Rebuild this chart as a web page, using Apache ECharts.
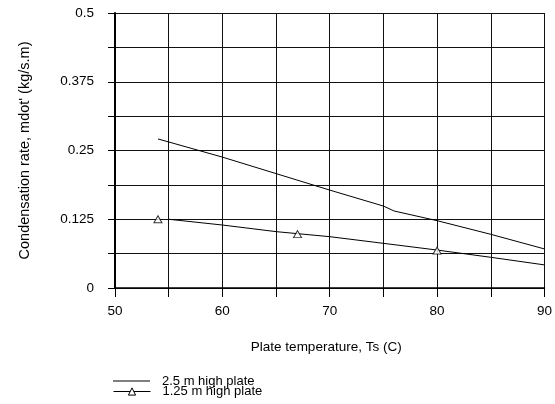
<!DOCTYPE html>
<html>
<head>
<meta charset="utf-8">
<script src="https://cdn.jsdelivr.net/npm/echarts@6/dist/echarts.min.js"></script>
<style>html,body{margin:0;padding:0;background:#fff}#c{width:555px;height:404px}</style>
</head>
<body>
<div id="c"></div>
<script>
// Data
var xTicks = [50, 60, 70, 80, 90];
var yTicks = [0, 0.125, 0.25, 0.375, 0.5];
var plate25X = [54, 60, 70, 75, 76, 80, 85, 90];
var plate25Y = [0.271, 0.238, 0.178, 0.149, 0.140, 0.1224, 0.0976, 0.071];
var plate125X = [55, 60, 65, 70, 75, 80, 85, 90];
var plate125Y = [0.125, 0.1145, 0.1025, 0.0933, 0.0812, 0.069, 0.0558, 0.042];
var pointsX = [54, 67, 80];
var pointsY = [0.125, 0.098, 0.068];
var names = ['2.5 m high plate', '1.25 m high plate'];

function zip(a, b) { return a.map(function (v, i) { return [v, b[i]]; }); }

var FONT = "'Liberation Sans', Arial, Helvetica, sans-serif";
var chart = echarts.init(document.getElementById('c'), null, {renderer: 'canvas'});
chart.setOption({
  animation: false,
  backgroundColor: '#fff',
  textStyle: {fontFamily: FONT, color: '#000'},
  grid: {left: 115, right: 8, top: 13, bottom: 116, containLabel: false},
  xAxis: {
    type: 'value', min: 50, max: 90, interval: 5,
    name: 'Plate temperature, Ts (C)', nameLocation: 'middle', nameGap: 52,
    nameTextStyle: {fontSize: 13.5, color: '#000', fontFamily: FONT, padding: [0, 7, 0, 0]},
    axisLine: {show: true, onZero: false, lineStyle: {color: '#000', width: 1.5}},
    axisTick: {show: true, inside: false, length: 9, lineStyle: {color: '#000', width: 1}},
    axisLabel: {fontSize: 13.5, color: '#000', fontFamily: FONT, margin: 16,
      formatter: function (v) { return xTicks.indexOf(v) >= 0 ? String(v) : ''; }},
    splitLine: {show: true, lineStyle: {color: '#111', width: 1}}
  },
  yAxis: {
    type: 'value', min: 0, max: 0.5, interval: 0.0625,
    name: "Condensation rate, mdot' (kg/s.m)", nameLocation: 'middle', nameGap: 83, nameRotate: 90,
    nameTextStyle: {fontSize: 14.5, color: '#000', fontFamily: FONT},
    axisLine: {show: true, onZero: false, lineStyle: {color: '#000', width: 2}},
    axisTick: {show: true, inside: false, length: 7, lineStyle: {color: '#000', width: 1}},
    axisLabel: {fontSize: 13.5, color: '#000', fontFamily: FONT, margin: 21,
      formatter: function (v) {
        for (var i = 0; i < yTicks.length; i++) { if (Math.abs(yTicks[i] - v) < 1e-9) return String(yTicks[i]); }
        return '';
      }},
    splitLine: {show: true, lineStyle: {color: '#111', width: 1}}
  },
  legend: [
    {data: [names[0]], orient: 'vertical', left: 113, top: 374.5, padding: 0,
      icon: 'rect', itemWidth: 37, itemHeight: 1,
      itemStyle: {color: '#000'},
      textStyle: {fontSize: 13, color: '#000', fontFamily: FONT, padding: [0, 0, 0, 7]}},
    {data: [names[1]], orient: 'vertical', left: 113, top: 385, padding: 0,
      itemWidth: 37, itemHeight: 9,
      itemStyle: {color: '#fff', borderColor: '#000', borderWidth: 1},
      lineStyle: {color: '#000', width: 1},
      textStyle: {fontSize: 13, color: '#000', fontFamily: FONT, padding: [0, 0, 0, 7]}}
  ],
  series: [
    {name: names[0], type: 'line', data: zip(plate25X, plate25Y), showSymbol: false, symbol: 'none',
      lineStyle: {color: '#000', width: 1}, itemStyle: {color: '#000'}},
    {name: names[1], type: 'line', data: zip(plate125X, plate125Y), showSymbol: false,
      symbol: 'triangle', symbolSize: [8, 7],
      lineStyle: {color: '#000', width: 1}, itemStyle: {color: '#fff', borderColor: '#000', borderWidth: 1}},
    {name: '1.25 m data', type: 'scatter', data: zip(pointsX, pointsY),
      symbol: 'triangle', symbolSize: [8, 7],
      itemStyle: {color: '#fff', borderColor: '#000', borderWidth: 1}, z: 5}
  ]
});
</script>
</body>
</html>
